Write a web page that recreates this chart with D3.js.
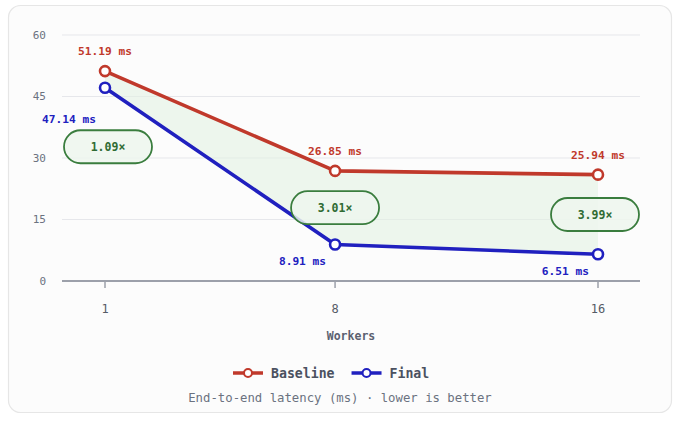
<!DOCTYPE html>
<html>
<head>
<meta charset="utf-8">
<script src="https://cdn.jsdelivr.net/npm/d3@7"></script>
<style>
  body { margin: 0; background: #ffffff; }
  svg { display: block; font-family: "DejaVu Sans Mono", monospace; }
</style>
</head>
<body>
<svg id="chart"></svg>
<script>
const workers = [1, 8, 16];
const baseline = [51.19, 26.85, 25.94];
const final = [47.14, 8.91, 6.51];
const speedups = ["1.09×", "3.01×", "3.99×"];
const yTicks = [0, 15, 30, 45, 60];
const seriesNames = ["Baseline", "Final"];

const width = 680, height = 423;
const plot = { left: 62, right: 640, top: 35, bottom: 281 };

const red = "#c0392b";
const blue = "#2020bf";
const green = "#3a7d3e";

const svg = d3.select("#chart")
  .attr("width", width)
  .attr("height", height);

// card
svg.append("rect")
  .attr("x", 8.5).attr("y", 5.5)
  .attr("width", 663).attr("height", 407)
  .attr("rx", 12)
  .attr("fill", "#fcfcfc")
  .attr("stroke", "#e6e6e6")
  .attr("stroke-width", 1.2);

const x = d3.scaleLinear().domain([1, 16]).range([105, 598]);
const y = d3.scaleLinear().domain([0, 60]).range([plot.bottom, plot.top]);

const rows = workers.map((w, i) => ({ w, base: baseline[i], fin: final[i], sp: speedups[i] }));

// grid
svg.append("g")
  .selectAll("line")
  .data(yTicks.filter(t => t > 0))
  .join("line")
  .attr("x1", plot.left).attr("x2", plot.right)
  .attr("y1", d => y(d)).attr("y2", d => y(d))
  .attr("stroke", "#e6e7eb")
  .attr("stroke-width", 1);

// y labels
svg.append("g")
  .selectAll("text")
  .data(yTicks)
  .join("text")
  .attr("x", 46)
  .attr("y", d => y(d))
  .attr("dy", "0.35em")
  .attr("text-anchor", "end")
  .style("font-size", "11px")
  .style("fill", "#6b7280")
  .text(d => d);

// x axis
const xAxis = svg.append("g").attr("transform", `translate(0,${plot.bottom})`);
xAxis.append("line")
  .attr("x1", plot.left).attr("x2", plot.right)
  .attr("stroke", "#9ca0aa")
  .attr("stroke-width", 2);
xAxis.selectAll(".tick")
  .data(workers)
  .join("line")
  .attr("x1", d => x(d)).attr("x2", d => x(d))
  .attr("y1", 1).attr("y2", 7)
  .attr("stroke", "#9ca0aa")
  .attr("stroke-width", 1.5);
xAxis.selectAll(".lbl")
  .data(workers)
  .join("text")
  .attr("x", d => x(d))
  .attr("y", 28)
  .attr("dy", "0.35em")
  .attr("text-anchor", "middle")
  .style("font-size", "12px")
  .style("fill", "#555b66")
  .text(d => d);

svg.append("text")
  .attr("x", (plot.left + plot.right) / 2)
  .attr("y", 336)
  .attr("dy", "0.35em")
  .attr("text-anchor", "middle")
  .style("font-size", "11.5px")
  .style("font-weight", "bold")
  .style("fill", "#5b6170")
  .text("Workers");

// shaded gap
const area = d3.area()
  .x(d => x(d.w))
  .y0(d => y(d.fin))
  .y1(d => y(d.base));

svg.append("path")
  .datum(rows)
  .attr("d", area)
  .attr("fill", "#e3f2e3")
  .attr("opacity", 0.6);

// lines
const series = [
  { key: "base", color: red },
  { key: "fin", color: blue }
];

series.forEach(s => {
  svg.append("path")
    .datum(rows)
    .attr("fill", "none")
    .attr("stroke", s.color)
    .attr("stroke-width", 3.6)
    .attr("stroke-linejoin", "round")
    .attr("d", d3.line().x(d => x(d.w)).y(d => y(d[s.key])));
});

// badges
rows.forEach(d => {
  const gap = y(d.fin) - y(d.base);
  const close = gap < 40;
  const cx = Math.max(plot.left + 46, Math.min(plot.right - 45, x(d.w)));
  const cy = close ? y(d.fin) + 59 : y((d.base + d.fin) / 2);
  const g = svg.append("g").attr("transform", `translate(${cx},${cy})`);
  g.append("rect")
    .attr("x", -44).attr("y", -16.5)
    .attr("width", 88).attr("height", 33)
    .attr("rx", 16.5)
    .attr("fill", "#edf6ed")
    .attr("fill-opacity", 0.85)
    .attr("stroke", green)
    .attr("stroke-width", 1.8);
  g.append("text")
    .attr("text-anchor", "middle")
    .attr("dy", "0.35em")
    .style("font-size", "11.5px")
    .style("font-weight", "bold")
    .style("fill", "#2f6b33")
    .text(d.sp);
  d.close = close;
});

// points
series.forEach(s => {
  svg.append("g")
    .selectAll("circle")
    .data(rows)
    .join("circle")
    .attr("cx", d => x(d.w))
    .attr("cy", d => y(d[s.key]))
    .attr("r", 5)
    .attr("fill", "#ffffff")
    .attr("stroke", s.color)
    .attr("stroke-width", 2.6);
});

// value labels
svg.append("g")
  .selectAll("text")
  .data(rows)
  .join("text")
  .attr("x", d => x(d.w))
  .attr("y", d => y(d.base) - 20)
  .attr("dy", "0.35em")
  .attr("text-anchor", "middle")
  .style("font-size", "11.2px")
  .style("font-weight", "bold")
  .style("fill", red)
  .text(d => `${d.base.toFixed(2)} ms`);

svg.append("g")
  .selectAll("text")
  .data(rows)
  .join("text")
  .attr("x", d => x(d.w) - 9)
  .attr("y", d => y(d.fin) + (d.close ? 31 : 17))
  .attr("dy", "0.35em")
  .attr("text-anchor", "end")
  .style("font-size", "11.2px")
  .style("font-weight", "bold")
  .style("fill", blue)
  .text(d => `${d.fin.toFixed(2)} ms`);

// legend
const legend = svg.append("g").attr("transform", "translate(233,373)");
let lx = 0;
seriesNames.forEach((name, i) => {
  const col = i === 0 ? red : blue;
  const g = legend.append("g").attr("transform", `translate(${lx},0)`);
  g.append("line")
    .attr("x1", 0).attr("x2", 30)
    .attr("stroke", col)
    .attr("stroke-width", 3.5);
  g.append("circle")
    .attr("cx", 15).attr("r", 4)
    .attr("fill", "#ffffff")
    .attr("stroke", col)
    .attr("stroke-width", 2);
  const t = g.append("text")
    .attr("x", 38)
    .attr("dy", "0.35em")
    .style("font-size", "13.2px")
    .style("font-weight", "bold")
    .style("fill", "#4b5160")
    .text(name);
  lx += 38 + t.node().getComputedTextLength() + 17;
});

svg.append("text")
  .attr("x", 340)
  .attr("y", 398)
  .attr("dy", "0.35em")
  .attr("text-anchor", "middle")
  .style("font-size", "12.3px")
  .style("fill", "#6b7280")
  .text("End-to-end latency (ms) · lower is better");
</script>
</body>
</html>
